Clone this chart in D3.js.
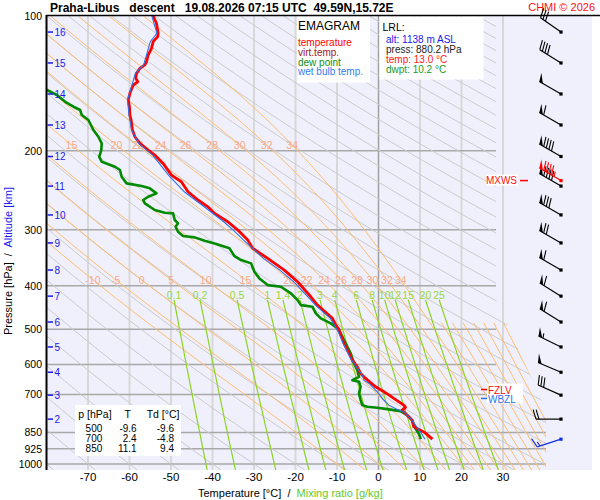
<!DOCTYPE html>
<html>
<head>
<meta charset="utf-8">
<script src="https://cdn.jsdelivr.net/npm/d3@7"></script>
<style>
  body { margin: 0; background: #fff; }
  text { font-family: "Liberation Sans", Arial, sans-serif; }
</style>
</head>
<body>
<svg id="plot" width="600" height="500"></svg>
<script>
// ---- values ----
const pressureTicks = [100, 200, 300, 400, 500, 600, 700, 850, 925, 1000];
const tempTicks = [-70, -60, -50, -40, -30, -20, -10, 0, 10, 20, 30];
const altKm = [16, 15, 14, 13, 12, 11, 10, 9, 8, 7, 6, 5, 4, 3, 2];
const altPress = [108.6, 127.3, 149.3, 175.1, 205.9, 239.7, 278, 321, 369, 422, 482, 548, 624, 702, 794];

// temperature profile [hPa] / [°C]
const tempPress = [100, 103.8, 109.3, 111.2, 114.1, 118.1, 122.2, 126.5, 128.6, 130.9, 134.3, 137.8, 140.2, 142.6,
  148.8, 154.0, 159.4, 166.4, 170.7, 179.7, 186.0, 192.4, 199.2, 204.4, 213.3, 226.5, 234.4, 246.8, 257.5, 266.6,
  275.8, 287.9, 300.5, 316.4, 330.1, 347.6, 369.1, 392.0, 423.4, 441.9, 473.2, 489.8, 500, 538.1, 566.5, 586.3,
  606.9, 627.8, 644.1, 672.5, 690.0, 700, 713.9, 738.9, 747.7, 758.2, 784.7, 798.2, 826.2, 840.3, 850, 880.2];
const tempVals = [-54.3, -53.5, -53.1, -53.2, -54.3, -54.7, -55.5, -55.9, -56.3, -57.5, -58.3, -58.5, -58.0, -59.1,
  -59.9, -60.3, -60.0, -59.9, -59.6, -59.3, -58.7, -57.5, -55.5, -53.9, -51.9, -49.9, -47.5, -45.9, -43.5, -41.1,
  -39.5, -36.3, -33.9, -31.5, -30.3, -26.7, -22.7, -19.5, -16.3, -14.7, -11.1, -10.3, -9.6, -8.3, -7.1, -6.3,
  -5.1, -4.3, -3.1, -0.7, 1.3, 2.4, 3.7, 6.1, 6.5, 5.7, 7.3, 8.1, 8.5, 10.1, 11.1, 13.0];

// dew point profile
const dewPress = [146.3, 150.1, 155.4, 159.4, 162.1, 166.4, 170.7, 179.7, 186.0, 192.4, 199.2, 206.2, 211.5, 217.0,
  220.7, 228.5, 236.4, 239.7, 242.5, 248.8, 253.2, 257.5, 262.0, 271.1, 274.9, 275.8, 285.4, 290.3, 295.4, 303.1,
  309.9, 312.0, 317.5, 321.8, 330.1, 343.5, 350.6, 356.6, 372.4, 385.2, 398.7, 402.2, 416.1, 430.7, 441.9, 445.8,
  461.1, 473.2, 485.5, 500, 529, 566.5, 596.3, 617.2, 638.9, 649.8, 655.5, 672.5, 695.7, 720.1, 738.9, 745.4,
  749.2, 754.2, 762.0, 777.9, 798.2, 833, 854.7, 880.2];
const dewVals = [-79.9, -77.5, -75.5, -73.5, -71.9, -71.5, -69.9, -68.7, -67.5, -66.7, -66.8, -67.3, -66.7, -63.5,
  -62.3, -61.9, -60.7, -57.1, -55.1, -53.5, -55.5, -56.7, -56.3, -53.9, -51.5, -49.5, -49.1, -48.3, -48.9, -48.3,
  -47.1, -44.3, -41.9, -39.5, -35.9, -34.7, -33.1, -30.7, -29.9, -28.7, -26.7, -23.5, -21.1, -19.5, -18.7, -15.9,
  -15.1, -13.9, -11.5, -9.6, -8.3, -6.7, -5.9, -5.1, -4.7, -6.3, -4.7, -4.3, -4.7, -4.3, -3.9, -2.7,
  -0.3, 2.1, 5.3, 6.9, 8.1, 8.9, 9.7, 10.2];

// wet bulb profile
const wetPress = [100, 109.3, 114.1, 122.2, 128.6, 134.3, 142.6, 154.0, 166.4, 179.7, 192.4, 204.4, 226.5, 246.8,
  266.6, 287.9, 300.5, 316.4, 347.6, 369.1, 392.0, 423.4, 441.9, 473.2, 489.8, 506.9, 538.1, 566.5, 586.3, 606.9,
  633.4, 649.8, 660.9, 690.0, 720.1, 738.9, 755.4, 764.8, 791.2, 818.9, 847.6, 880.2];
const wetVals = [-54.6, -53.4, -55.0, -55.9, -56.6, -58.6, -59.4, -60.5, -60.1, -59.5, -57.8, -54.4, -50.6, -46.8,
  -42.0, -37.3, -35.0, -32.5, -27.7, -23.8, -20.4, -17.0, -15.2, -11.6, -10.6, -9.7, -8.5, -7.3, -6.5, -5.3,
  -3.9, -3.5, -2.3, -0.3, 1.3, 2.5, 4.5, 6.1, 7.7, 8.9, 10.1, 11.2];

// winds at the altitude marks [deg] / [kt]
const windDir = [305, 302, 300, 300, 300, 300, 300, 300, 300, 302, 302, 296, 293, 294, 270];
const windSpeed = [30, 40, 50, 60, 90, 90, 80, 70, 60, 60, 60, 55, 50, 30, 20];
const maxWind = [233, 300, 95];        // p, dir, speed
const surfaceWind = [880.2, 252, 15];  // p, dir, speed
const fzlvP = 682, wbzlP = 714;

// diagram reference lines
const thetaW = [-10, -5, 0, 5, 10, 15, 20, 22, 24, 26, 28, 30, 32, 34];
const thetaWLow = [36, 38, 40, 42, 44, 46, 48, 50];   // only drawn below ~480 hPa
const mixRatios = [0.1, 0.2, 0.5, 1, 1.4, 2, 3, 4, 6, 8, 10, 12, 15, 20, 25];
const dryThetaC = d3.range(-80, 330, 10);

const tableP = [500, 700, 850];
const tableT = [-9.6, 2.4, 11.1];
const tableTd = [-9.6, -4.8, 9.4];

// ---- setup ----
const svg = d3.select("#plot");
const x = d3.scaleLinear().domain([-80, 40]).range([46.5, 544.5]);
const y = d3.scaleLog().domain([100, 1000]).range([16, 464]);
const pBottom = y.invert(470);

const defs = svg.append("defs");
defs.append("clipPath").attr("id", "lines-clip")
  .append("polygon").attr("points", "46,16 496,16 496,300 546,410 546,470 46,470");
defs.append("clipPath").attr("id", "curve-clip")
  .append("rect").attr("x", 46).attr("y", 16).attr("width", 500).attr("height", 454);

svg.append("rect").attr("x", 46).attr("y", 16).attr("width", 546).attr("height", 454).attr("fill", "#f0f0fc");

// vertical grid
svg.selectAll(".vgrid").data(tempTicks).enter().append("line")
  .attr("x1", d => x(d)).attr("x2", d => x(d)).attr("y1", 16).attr("y2", 470)
  .attr("stroke", d => d === 0 ? "#a0a0a0" : "#d8d8d8")
  .attr("stroke-width", d => d === 0 ? 1.5 : 2);

// horizontal grid
svg.selectAll(".hgrid").data(pressureTicks.slice(1)).enter().append("line")
  .attr("x1", 46).attr("x2", d => d >= 850 ? 546 : 496)
  .attr("y1", d => y(d)).attr("y2", d => y(d))
  .attr("stroke", "#a8a8a8").attr("stroke-width", 1.5);

// thermodynamics for the background lines
function satVap(tC) { return 6.112 * Math.exp(17.67 * tC / (tC + 243.5)); }
function moistSlope(tK, p) {
  const es = satVap(tK - 273.15);
  const rs = 0.622 * es / (p - es);
  const Rd = 287.04, cp = 1005.7, Lv = 2.501e6;
  return (Rd * tK + Lv * rs) / (cp + Lv * Lv * rs * 0.622 / (Rd * tK * tK));
}
function pseudoAdiabat(tw, pTop) {
  const step = (lp0, T0, h) => {
    const k1 = moistSlope(T0, Math.exp(lp0));
    const k2 = moistSlope(T0 + h * k1, Math.exp(lp0 + h));
    return T0 + h * (k1 + k2) / 2;
  };
  const down = [];
  let T = tw + 273.15, lp = Math.log(1000);
  const hd = (Math.log(pBottom) - lp) / 3;
  for (let i = 0; i < 3; i++) { T = step(lp, T, hd); lp += hd; down.push([Math.exp(lp), T - 273.15]); }
  const up = [[1000, tw]];
  T = tw + 273.15; lp = Math.log(1000);
  const hu = -0.025;
  while (lp + hu > Math.log(pTop) - 1e-9) { T = step(lp, T, hu); lp += hu; up.push([Math.exp(lp), T - 273.15]); }
  return down.reverse().concat(up);
}
function mixTd(w, p) {
  const l = Math.log((w * p / (622 + w)) / 6.112);
  return 243.5 * l / (17.67 - l);
}
function tAt(pts, p) {
  for (let i = 1; i < pts.length; i++) {
    const a = pts[i - 1], b = pts[i];
    if ((a[0] - p) * (b[0] - p) <= 0) return a[1] + (b[1] - a[1]) * (p - a[0]) / (b[0] - a[0]);
  }
  return null;
}

const line = d3.line().x(d => x(d[1])).y(d => y(d[0]));
const logP = d3.range(0, 61).map(i => 100 * Math.pow(pBottom / 100, i / 60));

const bgLines = svg.append("g").attr("clip-path", "url(#lines-clip)");
// dry adiabats
dryThetaC.forEach(th => {
  const pts = logP.map(p => [p, (th + 273.15) * Math.pow(p / 1000, 0.2857) - 273.15]);
  bgLines.append("path").attr("d", line(pts)).attr("fill", "none")
    .attr("stroke", "#cbcbcb").attr("stroke-width", 1);
});
// pseudo adiabats
const moist = {};
thetaW.forEach(tw => {
  moist[tw] = pseudoAdiabat(tw, 100);
  bgLines.append("path").attr("d", line(moist[tw])).attr("fill", "none")
    .attr("stroke", "#ffbc6c").attr("stroke-width", 1);
});
thetaWLow.forEach(tw => {
  bgLines.append("path").attr("d", line(pseudoAdiabat(tw, 480))).attr("fill", "none")
    .attr("stroke", "#ffbc6c").attr("stroke-width", 1);
});
// mixing ratio lines
const mixP = d3.range(0, 21).map(i => 430 * Math.pow(pBottom / 430, i / 20));
mixRatios.forEach(w => {
  bgLines.append("path").attr("d", line(mixP.map(p => [p, mixTd(w, p)]))).attr("fill", "none")
    .attr("stroke", "#8cd424").attr("stroke-width", 1.2);
});

// line labels
[[194, 149], [388, 283.5]].forEach(([p, base]) => {
  thetaW.forEach(tw => {
    const t = tAt(moist[tw], p);
    if (t === null || x(t) < 55 || x(t) > 480) return;
    svg.append("text").attr("x", x(t)).attr("y", base).attr("text-anchor", "middle")
      .attr("font-size", "10.5px").attr("fill", "#f8aa8c").text(tw);
  });
});
mixRatios.forEach(w => {
  svg.append("text").attr("x", x(mixTd(w, 430))).attr("y", 298.5).attr("text-anchor", "middle")
    .attr("font-size", "10.5px").attr("fill", "#98d838").text(w);
});

// boxes
svg.append("rect").attr("x", 297).attr("y", 16.5).attr("width", 73).attr("height", 66).attr("fill", "#fff");
svg.append("rect").attr("x", 379.5).attr("y", 16.5).attr("width", 104).attr("height", 63).attr("fill", "#fff");
svg.append("rect").attr("x", 75).attr("y", 405).attr("width", 106).attr("height", 51).attr("fill", "#fff");

// profiles
const curves = svg.append("g").attr("clip-path", "url(#curve-clip)");
const toPts = (ps, vs) => ps.map((p, i) => [p, vs[i]]);
curves.append("path").attr("d", line(toPts(dewPress, dewVals))).attr("fill", "none")
  .attr("stroke", "#008a00").attr("stroke-width", 2.6).attr("stroke-linejoin", "round");
curves.append("path").attr("d", line(toPts(tempPress, tempVals))).attr("fill", "none")
  .attr("stroke", "#ff0000").attr("stroke-width", 2.8).attr("stroke-linejoin", "round");
curves.append("path").attr("d", line(toPts(wetPress, wetVals))).attr("fill", "none")
  .attr("stroke", "#2a72e8").attr("stroke-width", 1.1);

// axes frame
svg.append("line").attr("x1", 46).attr("x2", 600).attr("y1", 15.5).attr("y2", 15.5)
  .attr("stroke", "#000").attr("stroke-width", 1.5);
svg.append("line").attr("x1", 46.5).attr("x2", 46.5).attr("y1", 15).attr("y2", 470)
  .attr("stroke", "#000").attr("stroke-width", 2);

svg.selectAll(".plab").data(pressureTicks).enter().append("text")
  .attr("x", 42).attr("y", d => y(d) + 3.8).attr("text-anchor", "end")
  .attr("font-size", "10.5px").attr("fill", "#000").text(d => d);
svg.selectAll(".tlab").data(tempTicks).enter().append("text")
  .attr("x", d => x(d)).attr("y", 481).attr("text-anchor", "middle")
  .attr("font-size", "11.5px").attr("fill", "#000").text(d => d);

altKm.forEach((km, i) => {
  const yy = y(altPress[i]);
  svg.append("line").attr("x1", 47.5).attr("x2", 53).attr("y1", yy).attr("y2", yy)
    .attr("stroke", "#1a1aee").attr("stroke-width", 1.5);
  svg.append("text").attr("x", 54.5).attr("y", yy + 3.6).attr("font-size", "10px")
    .attr("fill", "#1a1aee").text(km);
});

// axis titles
const xt = svg.append("text").attr("x", 198).attr("y", 497).attr("font-size", "11px")
  .style("white-space", "pre");
xt.append("tspan").attr("fill", "#000").text("Temperature [°C]  /  ");
xt.append("tspan").attr("fill", "#66c81e").text("Mixing ratio [g/kg]");
const yt = svg.append("text").attr("transform", "translate(12,335) rotate(-90)")
  .attr("font-size", "11px").style("white-space", "pre");
yt.append("tspan").attr("fill", "#000").text("Pressure [hPa]  /  ");
yt.append("tspan").attr("fill", "#1a1aee").text("Altitude [km]");

// title
svg.append("text").attr("x", 50).attr("y", 12).attr("font-size", "12px").attr("font-weight", "bold")
  .style("white-space", "pre").text("Praha-Libus   descent   19.08.2026 07:15 UTC  49.59N,15.72E");
svg.append("text").attr("x", 595).attr("y", 11).attr("text-anchor", "end").attr("font-size", "11px")
  .attr("fill", "#ff1010").text("CHMI © 2026");

// legend
svg.append("text").attr("x", 298).attr("y", 30).attr("font-size", "12px").text("EMAGRAM");
[["temperature", "#ff0000"], ["virt.temp.", "#a01818"], ["dew point", "#109010"], ["wet bulb temp.", "#3080f0"]]
  .forEach(([t, c], i) => {
    svg.append("text").attr("x", 298).attr("y", 46 + i * 9.8).attr("font-size", "10px").attr("fill", c).text(t);
  });

// LRL box
svg.append("text").attr("x", 382.5).attr("y", 30.5).attr("font-size", "10.5px").text("LRL:");
[["alt: 1138 m ASL", "#1a1aee"], ["press: 880.2 hPa", "#222"], ["temp: 13.0 °C", "#ff2020"], ["dwpt: 10.2 °C", "#1a9a1a"]]
  .forEach(([t, c], i) => {
    svg.append("text").attr("x", 386).attr("y", 43 + i * 10).attr("font-size", "10px").attr("fill", c).text(t);
  });

// table
svg.append("text").attr("x", 78.3).attr("y", 417.5).attr("font-size", "10.5px").text("p [hPa]");
svg.append("text").attr("x", 127.7).attr("y", 417.5).attr("font-size", "10.5px").attr("text-anchor", "middle").text("T");
svg.append("text").attr("x", 146.7).attr("y", 417.5).attr("font-size", "10.5px").text("Td [°C]");
tableP.forEach((p, i) => {
  const yy = 431.5 + i * 10;
  svg.append("text").attr("x", 102.3).attr("y", yy).attr("text-anchor", "end").attr("font-size", "10px").text(p);
  svg.append("text").attr("x", 136.7).attr("y", yy).attr("text-anchor", "end").attr("font-size", "10px").text(tableT[i].toFixed(1));
  svg.append("text").attr("x", 174).attr("y", yy).attr("text-anchor", "end").attr("font-size", "10px").text(tableTd[i].toFixed(1));
});

// freezing level marks
const fzY = y(fzlvP), wbY = y(wbzlP);
svg.append("rect").attr("x", 487).attr("y", fzY - 6).attr("width", 36).attr("height", wbY - fzY + 11).attr("fill", "#fff");
svg.append("line").attr("x1", 481).attr("x2", 487).attr("y1", fzY).attr("y2", fzY).attr("stroke", "#ff0000").attr("stroke-width", 1.5);
svg.append("text").attr("x", 488).attr("y", fzY + 4).attr("font-size", "10px").attr("fill", "#ff1010").text("FZLV");
svg.append("line").attr("x1", 481).attr("x2", 487).attr("y1", wbY).attr("y2", wbY).attr("stroke", "#2a72e8").attr("stroke-width", 1.5);
svg.append("text").attr("x", 488).attr("y", wbY + 4.5).attr("font-size", "10px").attr("fill", "#2a72e8").text("WBZL");

// wind barbs
function windBarb(g, x0, y0, dir, spd, color) {
  const a = dir * Math.PI / 180;
  const ux = Math.sin(a), uy = -Math.cos(a);
  const px = -uy, py = ux;
  const len = 25, blen = 10, tilt = 0.3;
  const tipX = x0 + ux * len, tipY = y0 + uy * len;
  const at = dd => [tipX - ux * dd, tipY - uy * dd];
  let bx = px + ux * tilt, by = py + uy * tilt;
  const n = Math.hypot(bx, by); bx /= n; by /= n;
  g.append("line").attr("x1", x0).attr("y1", y0).attr("x2", tipX).attr("y2", tipY)
    .attr("stroke", color).attr("stroke-width", 1.2);
  g.append("rect").attr("x", x0 - 1.6).attr("y", y0 - 1.6).attr("width", 3.2).attr("height", 3.2).attr("fill", color);
  let rest = Math.round(spd / 5) * 5, d = 0;
  while (rest >= 50) {
    const [ax, ay] = at(d), [cx, cy] = at(d + 4);
    g.append("polygon").attr("points", `${ax},${ay} ${cx},${cy} ${ax + bx * 9},${ay + by * 9}`).attr("fill", color);
    d += 5; rest -= 50;
  }
  while (rest >= 10) {
    const [ax, ay] = at(d);
    g.append("line").attr("x1", ax).attr("y1", ay).attr("x2", ax + bx * blen).attr("y2", ay + by * blen)
      .attr("stroke", color).attr("stroke-width", 1.1);
    d += 3; rest -= 10;
  }
  if (rest >= 5) {
    if (d === 0) d = 3;
    const [ax, ay] = at(d);
    g.append("line").attr("x1", ax).attr("y1", ay).attr("x2", ax + bx * blen / 2).attr("y2", ay + by * blen / 2)
      .attr("stroke", color).attr("stroke-width", 1.1);
  }
}
const barbs = svg.append("g");
altKm.forEach((km, i) => windBarb(barbs, 561, y(altPress[i]), windDir[i], windSpeed[i], "#000"));
windBarb(barbs, 561, y(maxWind[0]), maxWind[1], maxWind[2], "#ff0000");
windBarb(barbs, 561, y(surfaceWind[0]), surfaceWind[1], surfaceWind[2], "#1030e0");

// max wind label
const mxY = y(maxWind[0]);
svg.append("rect").attr("x", 486).attr("y", mxY - 6).attr("width", 32).attr("height", 11).attr("fill", "#fff");
svg.append("text").attr("x", 517).attr("y", mxY + 3.8).attr("text-anchor", "end").attr("font-size", "10px")
  .attr("fill", "#ff1010").text("MXWS");
svg.append("line").attr("x1", 520).attr("x2", 528).attr("y1", mxY).attr("y2", mxY).attr("stroke", "#ff0000").attr("stroke-width", 1.5);
</script>
</body>
</html>
